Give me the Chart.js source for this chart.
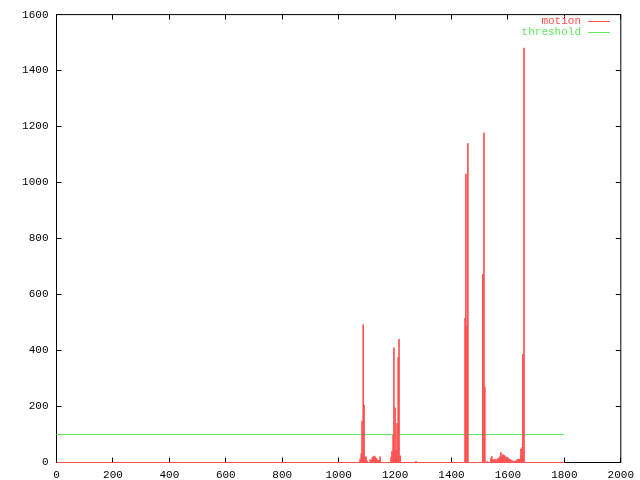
<!DOCTYPE html>
<html>
<head>
<meta charset="utf-8">
<script src="https://cdn.jsdelivr.net/npm/chart.js@4.4.1/dist/chart.umd.min.js"></script>
<style>
  html, body { margin: 0; padding: 0; background: #fff; }
  #wrap { width: 640px; height: 480px; }
</style>
</head>
<body>
<div id="wrap"><canvas id="motionChart" width="640" height="480"></canvas></div>
<script>
// frame numbers with non-zero motion (everything else sits on 0)
const motionFrames = [1076, 1080, 1083, 1087, 1090, 1094, 1097, 1101,
  1112, 1115, 1119, 1122, 1126, 1129, 1133, 1136, 1140, 1143, 1147,
  1186, 1189, 1193, 1196, 1200, 1204, 1207, 1211, 1214, 1218, 1274,
  1448, 1451, 1455, 1458, 1511, 1515, 1518, 1526,
  1540, 1543, 1547, 1550, 1554, 1558, 1561, 1565, 1568, 1572, 1575, 1579, 1582,
  1586, 1589, 1593, 1596, 1600, 1604, 1607, 1611, 1614, 1618, 1625, 1628, 1632,
  1635, 1639, 1642, 1646, 1650, 1653, 1657];
const motionValues = [12, 31, 148, 492, 204, 20, 20, 5,
  10, 8, 16, 20, 23, 20, 15, 10, 5, 8, 20,
  19, 40, 97, 410, 195, 45, 140, 375, 440, 24, 4,
  515, 1030, 488, 1139, 672, 1177, 270, 3,
  16, 21, 7, 10, 12, 7, 10, 15, 16, 21, 35, 21, 28,
  26, 23, 19, 14, 16, 12, 12, 7, 7, 5, 5, 5, 9,
  12, 11, 12, 48, 53, 386, 1480];
const frameStart = 0;
const frameEnd = 1800;
const thresholdValue = 100;
const xTicks = [0, 200, 400, 600, 800, 1000, 1200, 1400, 1600, 1800, 2000];
const yTicks = [0, 200, 400, 600, 800, 1000, 1200, 1400, 1600];

const RED = '#ff5050', GREEN = '#60e860';
const FONT = { family: "'Liberation Mono', 'DejaVu Sans Mono', monospace", size: 11 };

const motionData = motionFrames.map((f, i) => ({ x: f, y: motionValues[i] }));

// gnuplot style frame with inward ticks on all four sides
const framePlugin = {
  id: 'frame',
  beforeDatasetsDraw(chart) {
    const { ctx, chartArea: a, scales } = chart;
    ctx.save();
    ctx.strokeStyle = '#000'; ctx.lineWidth = 1;
    ctx.strokeRect(a.left, a.top, a.right - a.left, a.bottom - a.top);
    ctx.beginPath();
    xTicks.forEach(v => {
      const x = Math.round(scales.x.getPixelForValue(v) - 0.5) + 0.5;
      ctx.moveTo(x, a.bottom); ctx.lineTo(x, a.bottom - 5);
      ctx.moveTo(x, a.top); ctx.lineTo(x, a.top + 5);
    });
    yTicks.forEach(v => {
      const y = Math.round(scales.y.getPixelForValue(v) - 0.5) + 0.5;
      ctx.moveTo(a.left, y); ctx.lineTo(a.left + 5, y);
      ctx.moveTo(a.right, y); ctx.lineTo(a.right - 5, y);
    });
    ctx.stroke();
    ctx.restore();
  }
};

// key in the top right: text then a line sample
const keyPlugin = {
  id: 'key',
  afterDraw(chart) {
    const ctx = chart.ctx;
    ctx.save();
    ctx.font = FONT.size + 'px ' + FONT.family;
    ctx.textAlign = 'right'; ctx.textBaseline = 'middle';
    let y = 21;
    chart.data.datasets.filter(d => !d.hideKey).forEach(d => {
      ctx.fillStyle = d.borderColor;
      ctx.fillText(d.label, 581, y + 0.5);
      ctx.fillRect(588, y, 22, 1);
      y += 11;
    });
    ctx.restore();
  }
};

new Chart(document.getElementById('motionChart'), {
  type: 'bar',
  data: {
    datasets: [
      { type: 'bar', label: 'motion', data: motionData, backgroundColor: RED, borderColor: RED,
        barThickness: 1, grouped: false, clip: false },
      { type: 'line', label: 'motion base', hideKey: true,
        data: [{ x: frameStart, y: 0 }, { x: frameEnd, y: 0 }],
        borderColor: RED, borderWidth: 1, pointRadius: 0, clip: false },
      { type: 'line', label: 'threshold',
        data: [{ x: frameStart, y: thresholdValue }, { x: frameEnd, y: thresholdValue }],
        borderColor: GREEN, borderWidth: 1, pointRadius: 0, clip: false }
    ]
  },
  options: {
    responsive: false, animation: false,
    layout: { padding: { top: 5.5, right: 18.5, left: 0.5, bottom: 0 } },
    plugins: { legend: { display: false }, tooltip: { enabled: false } },
    scales: {
      x: {
        type: 'linear', min: 0, max: 2000, offset: false,
        afterBuildTicks: s => { s.ticks = xTicks.map(v => ({ value: v })); },
        afterFit: s => { s.height = 17.5; },
        grid: { display: false, drawTicks: false, offset: false }, border: { display: false },
        ticks: { color: '#000', font: FONT, padding: 6, maxRotation: 0, autoSkip: false,
          callback: v => String(v) }
      },
      y: {
        min: 0, max: 1600,
        afterBuildTicks: s => { s.ticks = yTicks.map(v => ({ value: v })); },
        afterFit: s => { s.width = 56; },
        grid: { display: false, drawTicks: false }, border: { display: false },
        ticks: { color: '#000', font: FONT, padding: 8, callback: v => String(v) }
      }
    }
  },
  plugins: [framePlugin, keyPlugin]
});
</script>
</body>
</html>
